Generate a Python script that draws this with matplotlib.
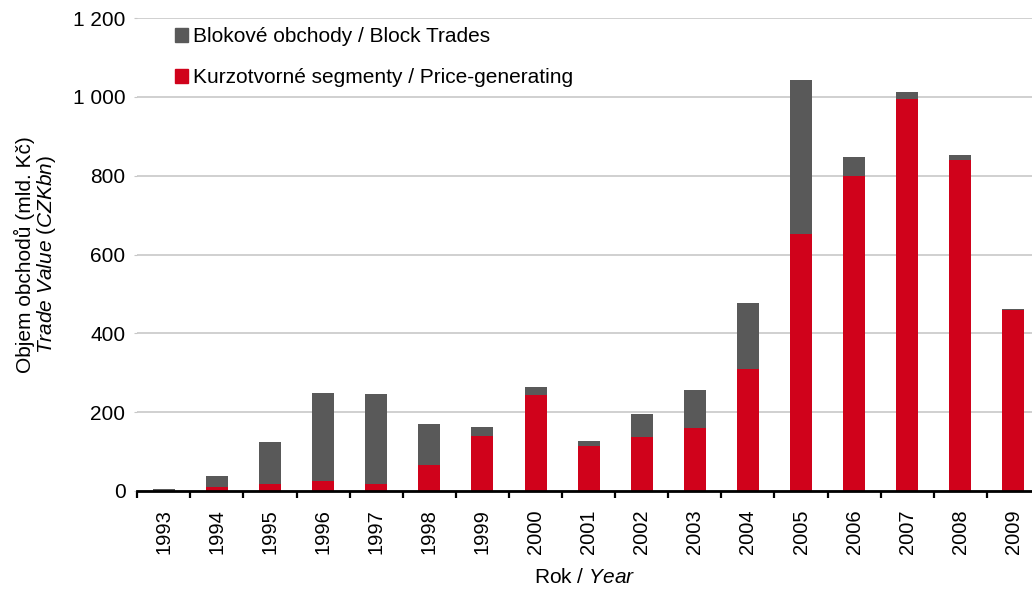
import matplotlib.pyplot as plt
from matplotlib.patches import Patch
from matplotlib.transforms import Bbox
import numpy as np

plt.rcParams['font.family'] = ['Liberation Sans', 'DejaVu Sans']
plt.rcParams['mathtext.fontset'] = 'custom'
plt.rcParams['mathtext.rm'] = 'Liberation Sans'
plt.rcParams['mathtext.it'] = 'Liberation Sans:italic'

years = ['1993', '1994', '1995', '1996', '1997', '1998', '1999', '2000', '2001',
         '2002', '2003', '2004', '2005', '2006', '2007', '2008', '2009']
price_generating = [0, 10, 19, 25, 19, 66, 140, 244, 114, 137, 161, 310, 651, 800, 994, 840, 458]
block_trades = [6, 28, 105, 224, 227, 105, 22, 21, 13, 59, 95, 168, 391, 48, 18, 13, 3]

red = '#D0021B'
grey = '#595959'

W, H = 1032, 590
fig = plt.figure(figsize=(W / 100, H / 100), dpi=100)
ax = fig.add_axes([137.3 / W, 1 - 491 / H, (W - 137.3) / W, (491 - 18) / H])

x = np.arange(len(years))
ax.bar(x, price_generating, width=0.414, color=red, zorder=3)
ax.bar(x, block_trades, width=0.414, bottom=price_generating, color=grey, zorder=3)

ax.set_xlim(-0.5, 16.35)
ax.set_ylim(0, 1200)
ax.set_yticks(np.arange(0, 1201, 200))
ax.set_yticklabels(['0', '200', '400', '600', '800', '1 000', '1 200'])
ax.grid(axis='y', color='#C8C8C8', linewidth=1.2, zorder=0)
ax.tick_params(axis='y', length=2.5, color='#C8C8C8', pad=6, labelsize=15)

ax.set_xticks(x)
ax.set_xticklabels(years, rotation=90)
ax.set_xticks(np.arange(-0.5, 16.5, 1), minor=True)
ax.tick_params(axis='x', which='major', length=0, pad=13, labelsize=14.5)
ax.tick_params(axis='x', which='minor', length=5, width=1.6, color='black')

for s in ['top', 'right', 'left']:
    ax.spines[s].set_visible(False)
ax.spines['bottom'].set_linewidth(2)
ax.spines['bottom'].set_zorder(4)

ax.set_xlabel('Rok / $\\mathit{Year}$', fontsize=15, labelpad=10)
ax.set_ylabel('Objem obchodů (mld. Kč)\n$\\mathit{Trade\\ Value\\ (CZKbn)}$',
              fontsize=15, labelpad=11, linespacing=1.0)

handles = [Patch(color=grey), Patch(color=red)]
labels = ['Blokové obchody / Block Trades', 'Kurzotvorné segmenty / Price-generating']
fig.legend(handles, labels, loc='upper left', bbox_to_anchor=(167 / W, 1 - 19 / H),
           frameon=False, fontsize=15, handlelength=0.62, handleheight=0.62,
           handletextpad=0.25, labelspacing=1.05, borderaxespad=0)

# cut-off second line of the legend label
seg = fig.text(197 / W, 1 - 106 / H, 'Segments', fontsize=15, va='baseline', ha='left')
seg.set_clip_box(Bbox.from_extents(0, 1 - 91.5 / H, 1, 1 - 80 / H).transformed(fig.transFigure))
seg.set_clip_on(True)

fig.savefig('out.png', dpi=100)
